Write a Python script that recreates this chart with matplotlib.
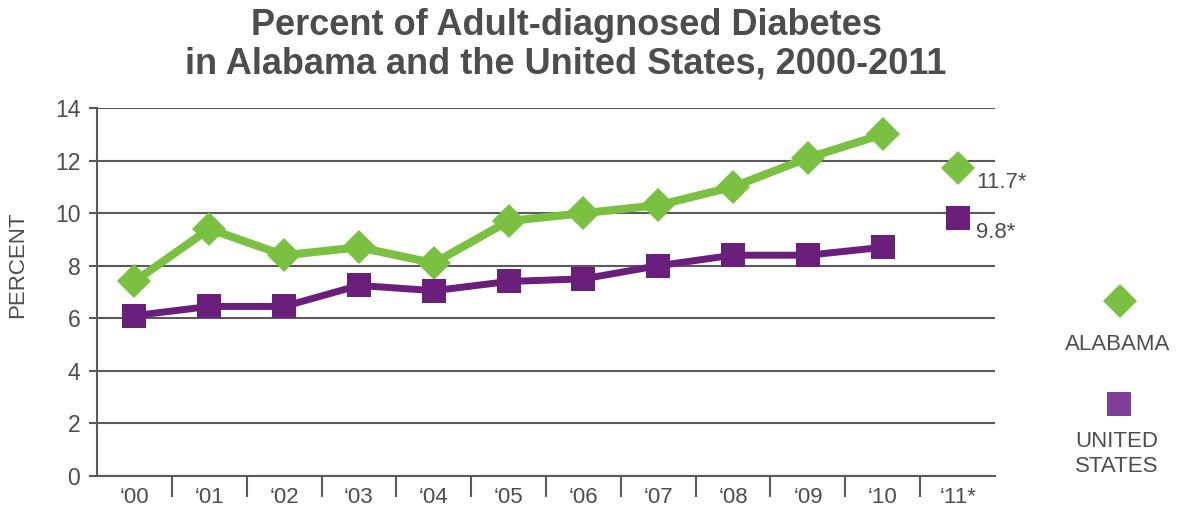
import matplotlib.pyplot as plt
from matplotlib.ticker import FixedLocator

years = ["\u201800", "\u201801", "\u201802", "\u201803", "\u201804", "\u201805",
         "\u201806", "\u201807", "\u201808", "\u201809", "\u201810", "\u201811*"]
alabama = [7.4, 9.4, 8.4, 8.7, 8.1, 9.7, 10.0, 10.3, 11.0, 12.1, 13.0]
usa = [6.1, 6.45, 6.45, 7.25, 7.05, 7.4, 7.5, 8.0, 8.4, 8.4, 8.7]
alabama_2011 = 11.7
usa_2011 = 9.8

green = "#7ac142"
purple = "#6b1f7c"
txt = "#4d4d4d"
grid = "#5a5a5a"

plt.rcParams["font.family"] = ["Liberation Sans", "DejaVu Sans"]

fig = plt.figure(figsize=(11.78, 5.09), dpi=100)
ax = fig.add_axes([97 / 1178, 1 - 476 / 509, 898 / 1178, 368 / 509])

x = list(range(len(alabama)))
ax.plot(x, alabama, color=green, lw=5.8, marker="D", ms=17, mew=0, zorder=3)
ax.plot(x, usa, color=purple, lw=5, marker="s", ms=17, mew=0, zorder=3)
ax.plot([11], [alabama_2011], color=green, marker="D", ms=17, mew=0, ls="none", zorder=3)
ax.plot([11], [usa_2011], color=purple, marker="s", ms=17, mew=0, ls="none", zorder=3)
ax.text(11.25, alabama_2011 - 0.15, f"{alabama_2011}*", fontsize=16, color=txt, va="top", ha="left")
ax.text(11.25, usa_2011 - 0.15, f"{usa_2011}*", fontsize=16, color=txt, va="top", ha="left")

ax.set_xlim(-0.5, 11.5)
ax.set_ylim(0, 14)
ax.set_yticks(range(0, 15, 2))
ax.yaxis.grid(True, color=grid, lw=1.5)
ax.set_axisbelow(True)
for s in ["top", "right"]:
    ax.spines[s].set_visible(False)
ax.spines["left"].set_color(grid)
ax.spines["left"].set_linewidth(1.5)
ax.spines["bottom"].set_color(grid)
ax.spines["bottom"].set_linewidth(1.5)
ax.tick_params(axis="y", length=6, width=1.5, color=grid, labelsize=16.5, labelcolor=txt, pad=6)

# boundaries get the long ticks, labels sit at category centres
ax.xaxis.set_major_locator(FixedLocator([i + 0.5 for i in range(11)]))
ax.xaxis.set_minor_locator(FixedLocator(range(12)))
ax.set_xticklabels([])
ax.set_xticklabels(years, minor=True)
ax.tick_params(axis="x", which="major", length=15, width=1.5, color=grid)
ax.tick_params(axis="x", which="minor", length=0, labelsize=16, labelcolor=txt, pad=8)

fig.text(18 / 1178, 1 - 265 / 509, "PERCENT", rotation=90, fontsize=16, color=txt,
         ha="center", va="center")

fig.text(566 / 1178, 1 - 45 / 509, "Percent of Adult-diagnosed Diabetes\nin Alabama and the United States, 2000-2011",
         family=["Liberation Sans Narrow", "Liberation Sans", "DejaVu Sans"], fontweight="bold",
         fontsize=26, color=txt, ha="center", va="center", linespacing=1.12)

# legend drawn by hand, stacked on the right
fig.lines.append(plt.Line2D([1120 / 1178], [1 - 301 / 509], marker="D", ms=17, mew=0,
                            color=green, transform=fig.transFigure))
fig.text(1118 / 1178, 1 - 345 / 509, "ALABAMA", fontsize=16, color=txt, ha="center", va="center")
fig.lines.append(plt.Line2D([1119 / 1178], [1 - 404 / 509], marker="s", ms=17, mew=0,
                            color="#7f3f98", transform=fig.transFigure))
fig.text(1117 / 1178, 1 - 454 / 509, "UNITED\nSTATES", fontsize=16, color=txt, ha="center", va="center",
         linespacing=1.3)

fig.savefig("out.png", dpi=100)
